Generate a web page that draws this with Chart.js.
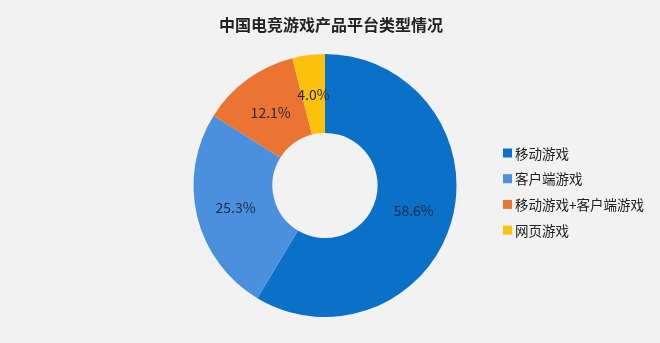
<!DOCTYPE html>
<html>
<head>
<meta charset="utf-8">
<script src="https://cdn.jsdelivr.net/npm/chart.js@4/dist/chart.umd.min.js"></script>
<style>
html,body{margin:0;padding:0;background:#f2f2f2;}
#wrap{width:660px;height:343px;position:relative;}
</style>
</head>
<body>
<div id="wrap"><canvas id="c" width="660" height="343"></canvas></div>
<script>
const categories = ['移动游戏', '客户端游戏', '移动游戏+客户端游戏', '网页游戏'];
const shares = [58.6, 25.3, 12.1, 4.0];
const colors = ['#0a70c8', '#4a90dc', '#eb7433', '#fcc10c'];
const titleText = '中国电竞游戏产品平台类型情况';

const FONT = '"Noto Sans CJK SC", "Noto Sans", sans-serif';

const labelPlugin = {
  id: 'sliceLabels',
  afterDatasetsDraw(chart) {
    const ctx = chart.ctx;
    const meta = chart.getDatasetMeta(0);
    ctx.save();
    ctx.font = '14px ' + FONT;
    ctx.fillStyle = '#1c2a48';
    ctx.textAlign = 'center';
    ctx.textBaseline = 'middle';
    meta.data.forEach((arc, i) => {
      const p = arc.tooltipPosition();
      ctx.fillText(shares[i].toFixed(1) + '%', p.x, p.y + 1);
    });
    ctx.restore();
  }
};

const titleLegendPlugin = {
  id: 'titleLegend',
  afterDraw(chart) {
    const ctx = chart.ctx;
    ctx.save();
    ctx.font = 'bold 16px ' + FONT;
    ctx.fillStyle = '#222222';
    ctx.textAlign = 'center';
    ctx.textBaseline = 'middle';
    ctx.fillText(titleText, 331, 25);
    ctx.font = '13.5px ' + FONT;
    ctx.textAlign = 'left';
    categories.forEach((name, i) => {
      const y = 153 + i * 25.7;
      ctx.fillStyle = colors[i];
      ctx.fillRect(503, y - 4.5, 9, 9);
      ctx.fillStyle = '#222222';
      ctx.fillText(name, 515, y + 0.5);
    });
    ctx.restore();
  }
};

new Chart(document.getElementById('c'), {
  type: 'doughnut',
  data: {
    labels: categories,
    datasets: [{
      data: shares,
      backgroundColor: colors,
      borderWidth: 0
    }]
  },
  options: {
    responsive: false,
    animation: false,
    cutout: '40%',
    layout: { padding: { left: 100, right: 110, top: 54, bottom: 26 } },
    plugins: {
      title: { display: false },
      legend: { display: false },
      tooltip: { enabled: false }
    }
  },
  plugins: [labelPlugin, titleLegendPlugin]
});
</script>
</body>
</html>
